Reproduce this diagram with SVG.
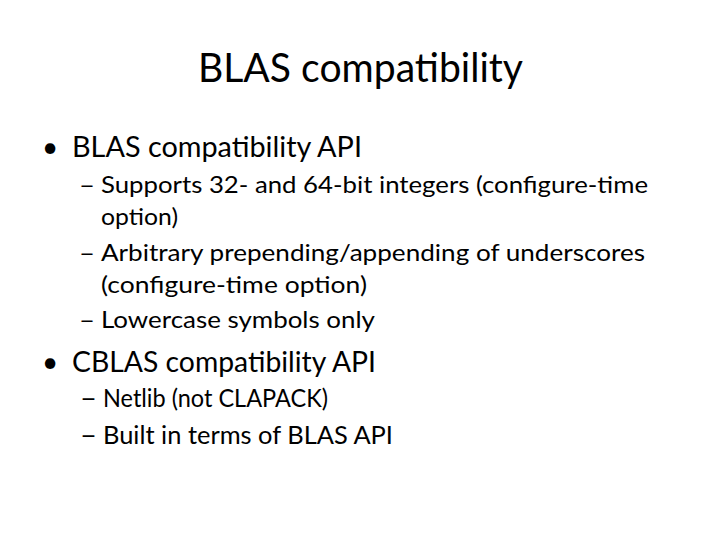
<svg xmlns="http://www.w3.org/2000/svg" width="720" height="540" viewBox="0 0 720 540">
<style>
text{font-family:Lato,"Open Sans","Liberation Sans",sans-serif;fill:#000}
.t{font-size:40px}
.l1{font-size:28px}
.l2{font-size:24px}
.l3{font-size:25px}
</style>
<rect width="720" height="540" fill="#fff"/>
<g id="title"><text class="t" x="198" y="82" textLength="325" lengthAdjust="spacingAndGlyphs">BLAS compatibility</text></g>
<g id="bullet1">
<text class="l1" x="42" y="157">•</text>
<text class="l1" x="72" y="157" textLength="290" lengthAdjust="spacingAndGlyphs">BLAS compatibility API</text>
<text class="l2" x="79" y="193" textLength="16" lengthAdjust="spacingAndGlyphs">–</text>
<text class="l2" x="101" y="193" textLength="547" lengthAdjust="spacingAndGlyphs">Supports 32- and 64-bit integers (configure-time</text>
<text class="l2" x="101" y="225" textLength="77" lengthAdjust="spacingAndGlyphs">option)</text>
<text class="l2" x="79" y="261" textLength="16" lengthAdjust="spacingAndGlyphs">–</text>
<text class="l2" x="101" y="261" textLength="544" lengthAdjust="spacingAndGlyphs">Arbitrary prepending/appending of underscores</text>
<text class="l2" x="101" y="293" textLength="266" lengthAdjust="spacingAndGlyphs">(configure-time option)</text>
<text class="l2" x="79" y="328" textLength="16" lengthAdjust="spacingAndGlyphs">–</text>
<text class="l2" x="101" y="328" textLength="274" lengthAdjust="spacingAndGlyphs">Lowercase symbols only</text>
</g>
<g id="bullet2">
<text class="l1" x="42" y="372">•</text>
<text class="l1" x="72" y="372" textLength="304" lengthAdjust="spacingAndGlyphs">CBLAS compatibility API</text>
<text class="l3" x="80" y="407" textLength="17" lengthAdjust="spacingAndGlyphs">–</text>
<text class="l3" x="103" y="407" textLength="225" lengthAdjust="spacingAndGlyphs">Netlib (not CLAPACK)</text>
<text class="l3" x="80" y="444" textLength="17" lengthAdjust="spacingAndGlyphs">–</text>
<text class="l3" x="103" y="444" textLength="290" lengthAdjust="spacingAndGlyphs">Built in terms of BLAS API</text>
</g>
</svg>
